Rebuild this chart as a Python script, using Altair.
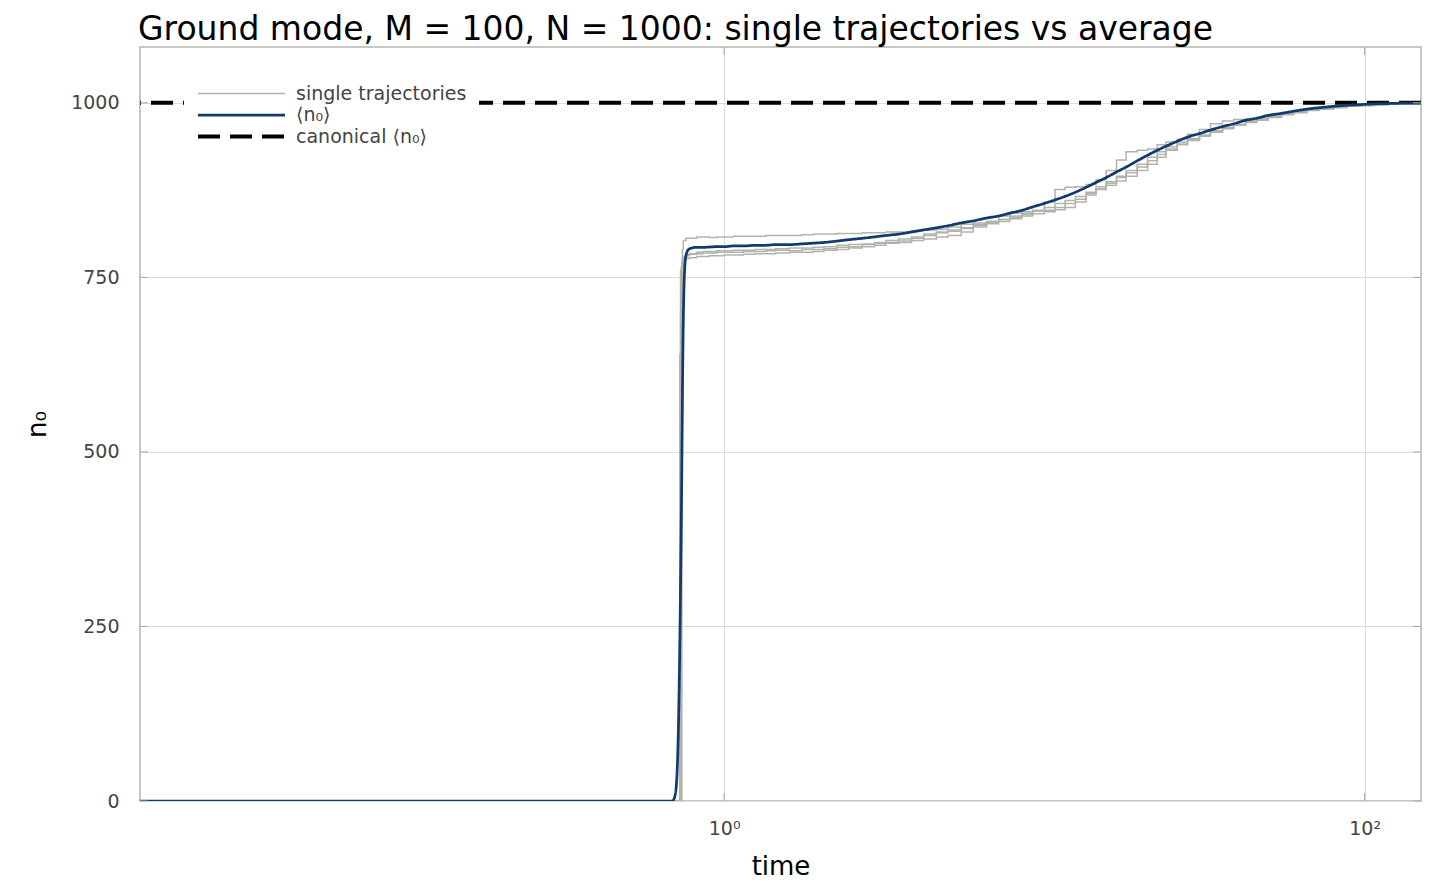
import altair as alt
import pandas as pd

TITLE = "Ground mode, M = 100, N = 1000: single trajectories vs average"
SERIES = ["single trajectories", "⟨n₀⟩", "canonical ⟨n₀⟩"]
CANONICAL = 1000
X_TICKS = [1, 100]
Y_TICKS = [0, 250, 500, 750, 1000]

# shared time grid for the trajectories (after the jump)
grid_t = [0.78, 0.82, 0.86, 0.9, 0.95, 1.0, 1.07, 1.15, 1.25, 1.35,
          1.45, 1.6, 1.75, 1.9, 2.05, 2.25, 2.45, 2.7, 2.95, 3.2,
          3.5, 3.85, 4.2, 4.6, 5.0, 5.5, 6.0, 6.6, 7.2, 7.8,
          8.5, 9.2, 10, 10.8, 11.6, 12.5, 13.5, 14.5, 15.6, 16.8,
          18, 19.5, 21, 22.5, 24, 26, 28, 30.5, 33, 36,
          39, 42.5, 46, 50, 55, 60, 66, 72, 80, 88,
          97, 107, 118, 130, 150]

# average <n0>
mean_jump_t = [0.015, 0.69, 0.70, 0.71, 0.72, 0.735, 0.745, 0.755, 0.765]
mean_jump_v = [0, 0, 5, 25, 105, 400, 675, 770, 786]
mean_v = [791, 793, 793, 793.5, 794, 794, 795, 795, 796, 796,
          797, 797, 798, 799, 800, 802, 804, 806, 808, 810,
          812, 815, 818, 821, 824, 828, 831, 835, 838, 842,
          846, 851, 856, 861, 866, 872, 879, 886, 893, 901,
          908, 917, 925, 932, 938, 945, 951, 956, 961, 966,
          970, 975, 978, 982, 985, 988, 991, 993, 995, 996.5,
          997.5, 998.5, 999, 999.5, 999.7]

# single trajectories
traj_a_jump_t = [0.015, 0.738, 0.741, 0.746, 0.76]
traj_a_jump_v = [0, 720, 790, 803, 806]
traj_a_v = [806, 808, 808, 807, 808, 808, 809, 809, 809, 810,
            810, 810, 811, 812, 812, 813, 813, 814, 814, 815,
            815, 817, 818, 819, 822, 826, 828, 830, 833, 836,
            840, 846, 858, 876, 879, 880, 883, 890, 903, 918,
            930, 932, 934, 940, 944, 948, 955, 962, 970, 974,
            976, 977, 978, 981, 984, 988, 990, 993, 994, 995,
            997, 998, 998, 999, 999]

traj_b_jump_t = [0.015, 0.727, 0.731, 0.74, 0.755]
traj_b_jump_v = [0, 640, 760, 778, 781]
traj_b_v = [783, 784, 785, 785, 786, 786, 786, 787, 787, 788,
            789, 788, 790, 790, 791, 793, 794, 797, 799, 800,
            802, 806, 810, 814, 816, 820, 826, 830, 833, 838,
            842, 845, 850, 856, 860, 866, 872, 880, 887, 895,
            903, 912, 922, 930, 937, 944, 949, 954, 960, 965,
            969, 973, 977, 980, 984, 987, 990, 992, 994, 996,
            997, 998, 998, 999, 998]

traj_c_jump_t = [0.015, 0.731, 0.735, 0.745, 0.76]
traj_c_jump_v = [0, 700, 765, 775, 777]
traj_c_v = [778, 780, 780, 781, 781, 782, 782, 783, 784, 784,
            785, 786, 786, 787, 789, 790, 792, 794, 796, 799,
            800, 803, 805, 808, 810, 815, 822, 829, 838, 842,
            844, 845, 846, 847, 850, 858, 868, 876, 882, 888,
            895, 903, 912, 922, 932, 940, 946, 952, 958, 963,
            968, 972, 975, 979, 983, 986, 989, 991, 993, 995,
            996, 997, 998, 998, 997]

traj_d_jump_t = [0.015, 0.735, 0.739, 0.75, 0.765]
traj_d_jump_v = [0, 690, 772, 780, 783]
traj_d_v = [784, 786, 787, 787, 788, 788, 789, 789, 790, 790,
            791, 792, 792, 793, 794, 796, 797, 798, 800, 803,
            805, 808, 812, 815, 818, 821, 824, 827, 830, 834,
            838, 841, 844, 850, 856, 862, 870, 877, 885, 893,
            900, 908, 917, 926, 934, 941, 947, 953, 959, 964,
            969, 974, 977, 981, 985, 988, 990, 992, 995, 996,
            997, 998, 999, 999, 999]

W, H = 1281, 754
GREY, BLUE = "#b3b3ad", "#113a6e"
FONT = "DejaVu Sans"

rows = []
for name, jt, jv, gv in [("a", traj_a_jump_t, traj_a_jump_v, traj_a_v),
                         ("b", traj_b_jump_t, traj_b_jump_v, traj_b_v),
                         ("c", traj_c_jump_t, traj_c_jump_v, traj_c_v),
                         ("d", traj_d_jump_t, traj_d_jump_v, traj_d_v)]:
    for t, v in zip(jt + grid_t, jv + gv):
        rows.append({"t": t, "n": v, "series": SERIES[0], "traj": name})
traj_df = pd.DataFrame(rows)

mean_df = pd.DataFrame({"t": mean_jump_t + grid_t, "n": mean_jump_v + mean_v})
mean_df["series"] = SERIES[1]
canon_df = pd.DataFrame({"n": [CANONICAL], "series": [SERIES[2]]})
xt_df = pd.DataFrame({"t": X_TICKS})
yt_df = pd.DataFrame({"n": Y_TICKS})

X = alt.X("t:Q",
          scale=alt.Scale(type="log", domain=[0.015, 150], nice=False),
          axis=alt.Axis(values=X_TICKS,
                        labelExpr="datum.value == 1 ? '10⁰' : '10²'",
                        title="time", grid=True, labelPadding=18, titlePadding=15))
Y = alt.Y("n:Q",
          scale=alt.Scale(domain=[0, 1080], nice=False, zero=False),
          axis=alt.Axis(values=Y_TICKS, format="d", title="n₀", grid=True,
                        labelPadding=21, titlePadding=20))

C = alt.Color("series:N", scale=alt.Scale(domain=SERIES, range=[GREY, BLUE, "#000000"]),
              legend=alt.Legend(title=None))
D = alt.StrokeDash("series:N", scale=alt.Scale(domain=SERIES, range=[[1, 0], [1, 0], [22, 10]]),
                   legend=alt.Legend(title=None))
SW = alt.StrokeWidth("series:N", scale=alt.Scale(domain=SERIES, range=[1.5, 4, 2.4]),
                     legend=alt.Legend(title=None))

canon = alt.Chart(canon_df).mark_rule().encode(y=Y, color=C, strokeDash=D, strokeWidth=SW)
trajs = alt.Chart(traj_df).mark_line(interpolate="step-after", clip=True).encode(
    x=X, y=Y, color=C, strokeDash=D, strokeWidth=SW, detail="traj:N")
mean = alt.Chart(mean_df).mark_line(interpolate="monotone", clip=True).encode(
    x=X, y=Y, color=C, strokeDash=D, strokeWidth=SW)

TICK = "#a8a8a4"
tb = alt.Chart(xt_df).mark_rule(color=TICK, strokeWidth=1).encode(x=X, y=alt.value(H), y2=alt.value(H - 8))
tt = alt.Chart(xt_df).mark_rule(color=TICK, strokeWidth=1).encode(x=X, y=alt.value(0), y2=alt.value(8))
tl = alt.Chart(yt_df).mark_rule(color=TICK, strokeWidth=1).encode(y=Y, x=alt.value(0), x2=alt.value(8))
tr = alt.Chart(yt_df).mark_rule(color=TICK, strokeWidth=1).encode(y=Y, x=alt.value(W), x2=alt.value(W - 8))

chart = alt.layer(canon, trajs, mean, tb, tt, tl, tr).properties(
    width=W, height=H,
    autosize=alt.AutoSizeParams(type="none"),
    padding={"left": 132, "top": 39, "right": 11, "bottom": 85},
    title=alt.TitleParams(TITLE, anchor="start", frame="group", fontSize=33, fontWeight="normal",
                          font=FONT, color="#000000", offset=0, dx=-2),
).configure_view(
    stroke="#b5b5b0", strokeWidth=1.5
).configure_axis(
    labelFont=FONT, labelFontSize=19, labelColor="#444444",
    titleFont=FONT, titleFontSize=26, titleFontWeight="normal", titleColor="#000000",
    gridColor="#dcdcdc", gridWidth=1, domain=False, ticks=False,
).configure_legend(
    orient="none", legendX=44, legendY=24, padding=12, fillColor="#ffffff",
    symbolType="M-1,0L8.158,0", symbolSize=361, labelOffset=77, rowPadding=0,
    labelLimit=400, labelFont=FONT, labelFontSize=19, labelColor="#444444",
)

chart.save("out.html", embed_options={"renderer": "svg", "actions": False})
